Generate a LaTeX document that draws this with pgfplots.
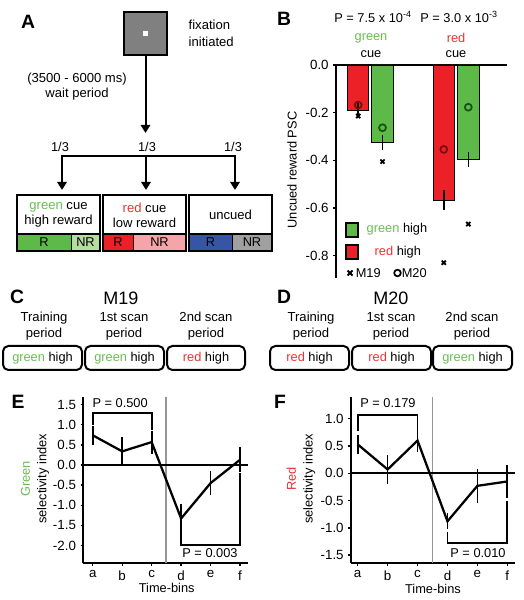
\documentclass[border=0pt]{standalone}
\usepackage{pgfplots}
\pgfplotsset{compat=1.18}
\usepackage{fontspec}
\setmainfont{Liberation Sans}
\usetikzlibrary{arrows.meta}
\definecolor{bgreen}{RGB}{93,185,72}
\definecolor{tgreen}{RGB}{105,190,80}
\definecolor{bred}{RGB}{236,32,39}
\definecolor{tred}{RGB}{232,52,48}
\definecolor{lgreen}{RGB}{182,221,160}
\definecolor{lpink}{RGB}{245,165,170}
\definecolor{bblue}{RGB}{55,85,165}
\definecolor{ngray}{RGB}{160,160,160}
\definecolor{sqgray}{RGB}{128,128,128}
\definecolor{vgray}{RGB}{150,150,150}
\definecolor{dred}{RGB}{120,15,15}
\definecolor{dgreen}{RGB}{20,85,20}
\newcommand\tf{\fontsize{9.6}{11.5}\selectfont}
\newcommand\pf{\fontsize{14.5}{16}\selectfont\bfseries}
\pgfplotsset{
  every tick label/.append style={font=\fontsize{10}{12}\selectfont},
  /pgf/number format/assume math mode=true,
}
\begin{document}
\begin{tikzpicture}[font=\tf]
\useasboundingbox (0,0) rectangle (393pt,450pt);
\begin{scope}[x=0.75pt,y=-0.75pt,shift={(0pt,450pt)}]
% ---------------- Panel A
\node[font=\pf] at (28,22) {A};
\draw[fill=sqgray, line width=1pt] (124,12) rectangle (167,55);
\fill[white] (143,31) rectangle (148,36);
\node[align=left, anchor=west, font=\fontsize{9.8}{12.75}\selectfont] at (184,33.5) {fixation\\initiated};
\node[align=center, font=\fontsize{9.8}{11.25}\selectfont] at (77,86.5) {(3500 - 6000 ms)\\wait period};
\draw[line width=1.5pt, -{Triangle[length=6pt,width=7pt]}] (145.5,55) -- (145.5,133);
\node at (60,147) {1/3};
\node at (147,147) {1/3};
\node at (233,147) {1/3};
\draw[line width=1.5pt, {Triangle[length=6pt,width=7pt]}-{Triangle[length=6pt,width=7pt]}] (62,190) -- (62,156) -- (235,156) -- (235,190);
\draw[line width=1.5pt, -{Triangle[length=6pt,width=7pt]}] (146,156) -- (146,190);
% boxes
\fill[bgreen] (17,234) rectangle (71,251);
\fill[lgreen] (71,234) rectangle (100,251);
\fill[bred] (103,234) rectangle (133,251);
\fill[lpink] (133,234) rectangle (186,251);
\fill[bblue] (189,234) rectangle (232,251);
\fill[ngray] (232,234) rectangle (272,251);
\foreach \a/\b/\c in {17/100/71, 103/186/133, 189/272/232}{
  \draw[line width=1.5pt] (\a,195) rectangle (\b,251);
  \draw[line width=1.3pt] (\a,234) -- (\b,234);
  \draw[line width=0.7pt] (\c,234) -- (\c,251);
}
\node[align=center, font=\fontsize{9.8}{11.25}\selectfont] at (58.5,215) {\textcolor{tgreen}{green} cue\\high reward};
\node[align=center, font=\fontsize{9.8}{11.25}\selectfont] at (144.5,215) {\textcolor{tred}{red} cue\\low reward};
\node[font=\fontsize{9.8}{11.25}\selectfont] at (230.5,215) {uncued};
\node at (44,242.5) {R};
\node at (85.5,242.5) {NR};
\node at (118,242.5) {R};
\node at (159.5,242.5) {NR};
\node at (210.5,242.5) {R};
\node at (252,242.5) {NR};
% ---------------- Panel B texts
\node[font=\pf] at (284,19) {B};
\node at (373,17) {P = 7.5 x 10\textsuperscript{-4}};
\node at (459,17) {P = 3.0 x 10\textsuperscript{-3}};
\node[text=tgreen] at (371,38) {green};
\node at (371,54) {cue};
\node[text=tred] at (456,38) {red};
\node at (456,54) {cue};
\node[rotate=90] at (292,170) {Uncued reward PSC};
% legend of B
\draw[fill=bgreen, line width=1.3pt] (346,223) rectangle (358,237);
\node[anchor=west] at (362,229.5) {\textcolor{tgreen}{green} high};
\draw[fill=bred, line width=1.3pt] (346,245) rectangle (358,259);
\node[anchor=west] at (370,252) {\textcolor{tred}{red} high};
\draw[line width=1.4pt] (347.5,270.5) -- (352.5,275.5) (347.5,275.5) -- (352.5,270.5);
\node[anchor=west, inner sep=0pt] at (355.5,273) {M19};
\draw[line width=1.3pt] (397.5,273) circle (3.3);
\node[anchor=west, inner sep=0pt] at (401.5,273) {M20};
% ---------------- Panels C, D
\node[font=\pf] at (17,297) {C};
\node[font=\fontsize{13.5}{16}\selectfont] at (121,298) {M19};
\node[font=\pf] at (284,297) {D};
\node[font=\fontsize{13.5}{16}\selectfont] at (391,298) {M20};
\foreach \x/\t in {44/Training, 124/1st scan, 206/2nd scan, 311/Training, 391/1st scan, 472/2nd scan}{
  \node[align=center, font=\fontsize{9.8}{12}\selectfont] at (\x,326) {\t\\period};
}
\foreach \a/\b in {3/82, 85/164, 167/245, 270/349, 352/431, 433/512}{
  \draw[line width=1.5pt, rounded corners=4pt] (\a,346) rectangle (\b,370);
}
\node at (42.5,358) {\textcolor{tgreen}{green} high};
\node at (124.5,358) {\textcolor{tgreen}{green} high};
\node at (206,358) {\textcolor{tred}{red} high};
\node at (309.5,358) {\textcolor{tred}{red} high};
\node at (391.5,358) {\textcolor{tred}{red} high};
\node at (472.5,358) {\textcolor{tgreen}{green} high};
% ---------------- Panels E, F texts
\node[font=\pf] at (18,402) {E};
\node[font=\pf] at (280,402) {F};
\node[rotate=90, align=center, font=\fontsize{9.6}{12.5}\selectfont] at (35,479) {\textcolor{tgreen}{Green}\\selectivity index};
\node[rotate=90, align=center, font=\fontsize{9.6}{12.5}\selectfont] at (301,479) {\textcolor{tred}{Red}\\selectivity index};
\node at (166.7,588.3) {Time-bins};
\node at (433,589) {Time-bins};
\end{scope}

% ---------------- Panel B axis
\begin{axis}[at={(252pt,241.5pt)}, anchor=south west, scale only axis,
  width=128.25pt, height=159.75pt,
  xmin=0, xmax=171, ymin=-0.893, ymax=0,
  axis x line=middle, axis y line=left, axis line style={-, line width=1.4pt},
  xtick=\empty, ytick={0,-0.2,-0.4,-0.6,-0.8},
  yticklabel style={/pgf/number format/.cd, fixed, fixed zerofill, precision=1},
  tick align=outside, major tick length=2pt, tick style={line width=1pt, black},
  hide obscured y ticks=false,
  clip=false]
\addplot[ybar, bar width=21.5, bar shift=0pt, fill=bred, draw=black, line width=0.7pt,
  error bars/.cd, y dir=both, y explicit, error mark=none, error bar style={line width=1.2pt, black}]
  coordinates {(22.2,-0.189) +- (0,0.03) (107.8,-0.566) +- (0,0.041)};
\addplot[ybar, bar width=21.5, bar shift=0pt, fill=bgreen, draw=black, line width=0.7pt,
  error bars/.cd, y dir=both, y explicit, error mark=none, error bar style={line width=1.2pt, black}]
  coordinates {(46.5,-0.326) +- (0,0.032) (132.3,-0.395) +- (0,0.032)};
\addplot[only marks, mark=x, mark size=2.2pt, line width=1.4pt, black]
  coordinates {(22.2,-0.214) (46.5,-0.405) (107.8,-0.829) (132.3,-0.667)};
\addplot[only marks, mark=o, mark size=2.6pt, line width=1.3pt, dred]
  coordinates {(22.2,-0.168) (107.8,-0.354)};
\addplot[only marks, mark=o, mark size=2.6pt, line width=1.3pt, dgreen]
  coordinates {(46.5,-0.263) (132.3,-0.177)};
\end{axis}

% ---------------- Panel E axis
\begin{axis}[at={(62.475pt,27.525pt)}, anchor=south west, scale only axis,
  width=123.5pt, height=124.95pt,
  xmin=-0.32, xmax=5.27, ymin=-2.445, ymax=1.70,
  axis lines=left, axis line style={-, line width=1.4pt},
  xtick={0,1,2,3,4,5}, xticklabels={a,b,c,d,e,f},
  ytick={-2,-1.5,-1,-0.5,0,0.5,1,1.5},
  yticklabel style={/pgf/number format/.cd, fixed, fixed zerofill, precision=1},
  tick align=outside, major tick length=2pt, tick style={line width=1pt, black},
  clip=false]
\addplot[vgray, line width=1.4pt] coordinates {(2.5,-2.445) (2.5,1.70)};
\addplot[black, line width=1.3pt] coordinates {(-0.32,0) (5.27,0)};
\addplot[black, line width=1.4pt] coordinates {(0,1.0) (0,1.30) (2,1.30) (2,0.87)};
\addplot[black, line width=1.4pt] coordinates {(3,-1.70) (3,-1.99) (5,-1.99) (5,-0.2)};
\addplot[black, line width=1.7pt, mark=none,
  error bars/.cd, y dir=both, y explicit, error bar style={line width=1.3pt},
  error mark options={line width=1.3pt, mark size=2pt}]
  coordinates {(0,0.74) +- (0,0.17) (1,0.34) +- (0,0.28) (2,0.57) +- (0,0.22)
               (3,-1.33) +- (0,0.29) (4,-0.45) +- (0,0.24) (5,0.13) +- (0,0.24)};
\node at (axis cs:0.93,1.55) {P = 0.500};
\node at (axis cs:3.98,-2.20) {P = 0.003};
\end{axis}

% ---------------- Panel F axis
\begin{axis}[at={(263.25pt,27.525pt)}, anchor=south west, scale only axis,
  width=123pt, height=124.95pt,
  xmin=-0.224, xmax=5.257, ymin=-1.65, ymax=1.404,
  axis lines=left, axis line style={-, line width=1.4pt},
  xtick={0,1,2,3,4,5}, xticklabels={a,b,c,d,e,f},
  ytick={-1.5,-1,-0.5,0,0.5,1},
  yticklabel style={/pgf/number format/.cd, fixed, fixed zerofill, precision=1},
  tick align=outside, major tick length=2pt, tick style={line width=1pt, black},
  clip=false]
\addplot[vgray, line width=1.4pt] coordinates {(2.5,-1.65) (2.5,1.404)};
\addplot[black, line width=1.3pt] coordinates {(-0.224,0) (5.257,0)};
\addplot[black, line width=1.4pt] coordinates {(0,0.78) (0,1.076) (2,1.076) (2,0.81)};
\addplot[black, line width=1.4pt] coordinates {(3,-1.07) (3,-1.28) (5,-1.28) (5,-0.50)};
\addplot[black, line width=1.7pt, mark=none,
  error bars/.cd, y dir=both, y explicit, error bar style={line width=1.3pt},
  error mark options={line width=1.3pt, mark size=2pt}]
  coordinates {(0,0.53) +- (0,0.12) (1,0.07) +- (0,0.21) (2,0.60) +- (0,0.17)
               (3,-0.88) +- (0,0.10) (4,-0.23) +- (0,0.26) (5,-0.15) +- (0,0.25)};
\node at (axis cs:1.01,1.29) {P = 0.179};
\node at (axis cs:4.02,-1.46) {P = 0.010};
\end{axis}
\end{tikzpicture}
\end{document}
